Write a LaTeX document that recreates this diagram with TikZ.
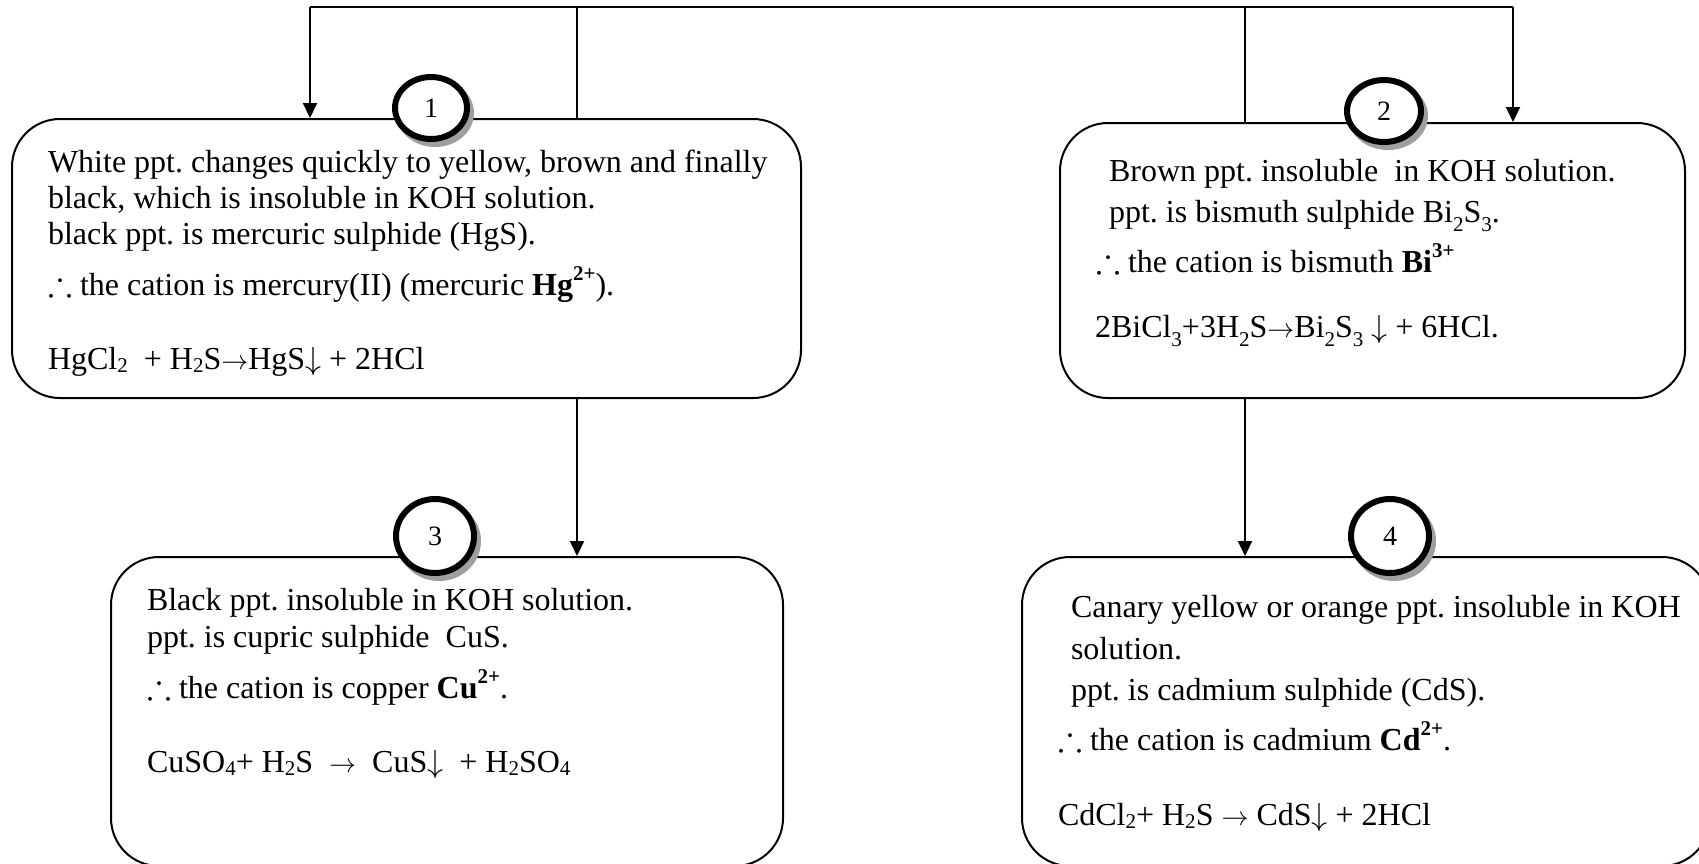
\RequirePackage{fix-cm}
\documentclass[tikz,border=0pt]{standalone}
\usepackage{amssymb}
\usepackage{fontspec}
\setmainfont{Liberation Serif}
\usetikzlibrary{shapes.geometric,shadows,arrows.meta}
\newcommand{\sbs}[1]{\raisebox{-0.12em}{\fontsize{21}{21}\selectfont #1}}
\newcommand{\sbl}[1]{\raisebox{-0.3em}{\fontsize{21}{21}\selectfont #1}}
\newcommand{\sps}[1]{\raisebox{0.45em}{\fontsize{21}{21}\selectfont\bfseries #1}}
\newcommand{\thf}{{\fontsize{36}{36}\selectfont$\therefore$}}
\newcommand{\rarr}{{\fontsize{27}{27}\selectfont$\rightarrow$}}
\newcommand{\darr}{$\downarrow$}
\tikzset{
  box/.style={draw, rounded corners=48pt, line width=2pt, inner sep=0pt},
  txt/.style={anchor=base west, inner sep=0pt},
  num/.style={ellipse, draw, fill=white, line width=6pt, inner sep=0pt,
    font=\fontsize{28}{28}\selectfont,
    drop shadow={shadow xshift=4pt, shadow yshift=-5pt, fill=gray!75, draw=gray!75, line width=6pt, opacity=1}},
  arr/.style={-{Triangle[length=15pt,width=14pt]}}
}
\begin{document}
\frenchspacing
\begin{tikzpicture}[x=1pt,y=-1pt,line width=2pt,font=\fontsize{32}{37}\selectfont]
\useasboundingbox (0,0) rectangle (1699,863);
\clip (0,0) rectangle (1699,863);
% boxes
\node[box, minimum width=789pt, minimum height=279pt] (b1) at (406.5,258.5) {};
\node[box, minimum width=625pt, minimum height=275pt] (b2) at (1372.5,260.5) {};
\node[box, minimum width=672pt, minimum height=309pt] (b3) at (447,711.5) {};
\node[box, minimum width=688pt, minimum height=309pt] (b4) at (1366,711.5) {};
% connectors
\coordinate (tl) at (310,7);
\coordinate (tr) at (1513,7);
\coordinate (j1) at (577,7);
\coordinate (j2) at (1245,7);
\draw (tl) -- (tr);
\draw[arr] (tl) -- (tl |- b1.north);
\draw (j1) -- (j1 |- b1.north);
\draw (j2) -- (j2 |- b2.north);
\draw[arr] (tr) -- (tr |- b2.north);
\draw[arr] (j1 |- b1.south) -- (j1 |- b3.north);
\draw[arr] (j2 |- b2.south) -- (j2 |- b4.north);
% numbers
\node[num, minimum width=72pt, minimum height=62pt] (n1) at (431,108) {1};
\node[num, minimum width=74pt, minimum height=62pt] (n2) at (1384,111) {2};
\node[num, minimum width=78pt, minimum height=74pt] (n3) at (435,536) {3};
\node[num, minimum width=78pt, minimum height=74pt] (n4) at (1390,536) {4};
% box 1 text
\node[txt] (t1a) at (47,172) {White ppt. changes quickly to yellow, brown and finally};
\node[txt] (t1b) at (47,208) {black, which is insoluble in KOH solution.};
\node[txt] (t1c) at (47,244) {black ppt. is mercuric sulphide (HgS).};
\node[txt] (t1d) at (47,295) {\thf\ the cation is mercury(II) (mercuric \textbf{Hg}\sps{2+}).};
\node[txt] (t1e) at (47,369) {HgCl\sbs{2}\ \ + H\sbs{2}S\rarr HgS\darr\ + 2HCl};
% box 2 text
\node[txt] (t2a) at (1108,181) {Brown ppt. insoluble\ \ in KOH solution.};
\node[txt] (t2b) at (1108,222) {ppt. is bismuth sulphide Bi\sbl{2}S\sbl{3}.};
\node[txt] (t2c) at (1095,272) {\thf\ the cation is bismuth \textbf{Bi}\sps{3+}};
\node[txt] (t2d) at (1094,337) {2BiCl\sbl{3}+3H\sbl{2}S\rarr Bi\sbl{2}S\sbl{3} \darr\ + 6HCl.};
% box 3 text
\node[txt] (t3a) at (146,610) {Black ppt. insoluble in KOH solution.};
\node[txt] (t3b) at (146,647) {ppt. is cupric sulphide\ \ CuS.};
\node[txt] (t3c) at (146,698) {\thf\ the cation is copper \textbf{Cu}\sps{2+}.};
\node[txt] (t3d) at (146,772) {CuSO\sbs{4}+ H\sbs{2}S\ \ \rarr\ \ CuS\darr\ \ + H\sbs{2}SO\sbs{4}};
% box 4 text
\node[txt] (t4a) at (1070,617) {Canary yellow or orange ppt. insoluble in KOH};
\node[txt] (t4b) at (1070,659) {solution.};
\node[txt] (t4c) at (1070,700) {ppt. is cadmium sulphide (CdS).};
\node[txt] (t4d) at (1057,750) {\thf\ the cation is cadmium \textbf{Cd}\sps{2+}.};
\node[txt] (t4e) at (1057,825) {CdCl\sbs{2}+ H\sbs{2}S \rarr\ CdS\darr\ + 2HCl};
\end{tikzpicture}
\end{document}
